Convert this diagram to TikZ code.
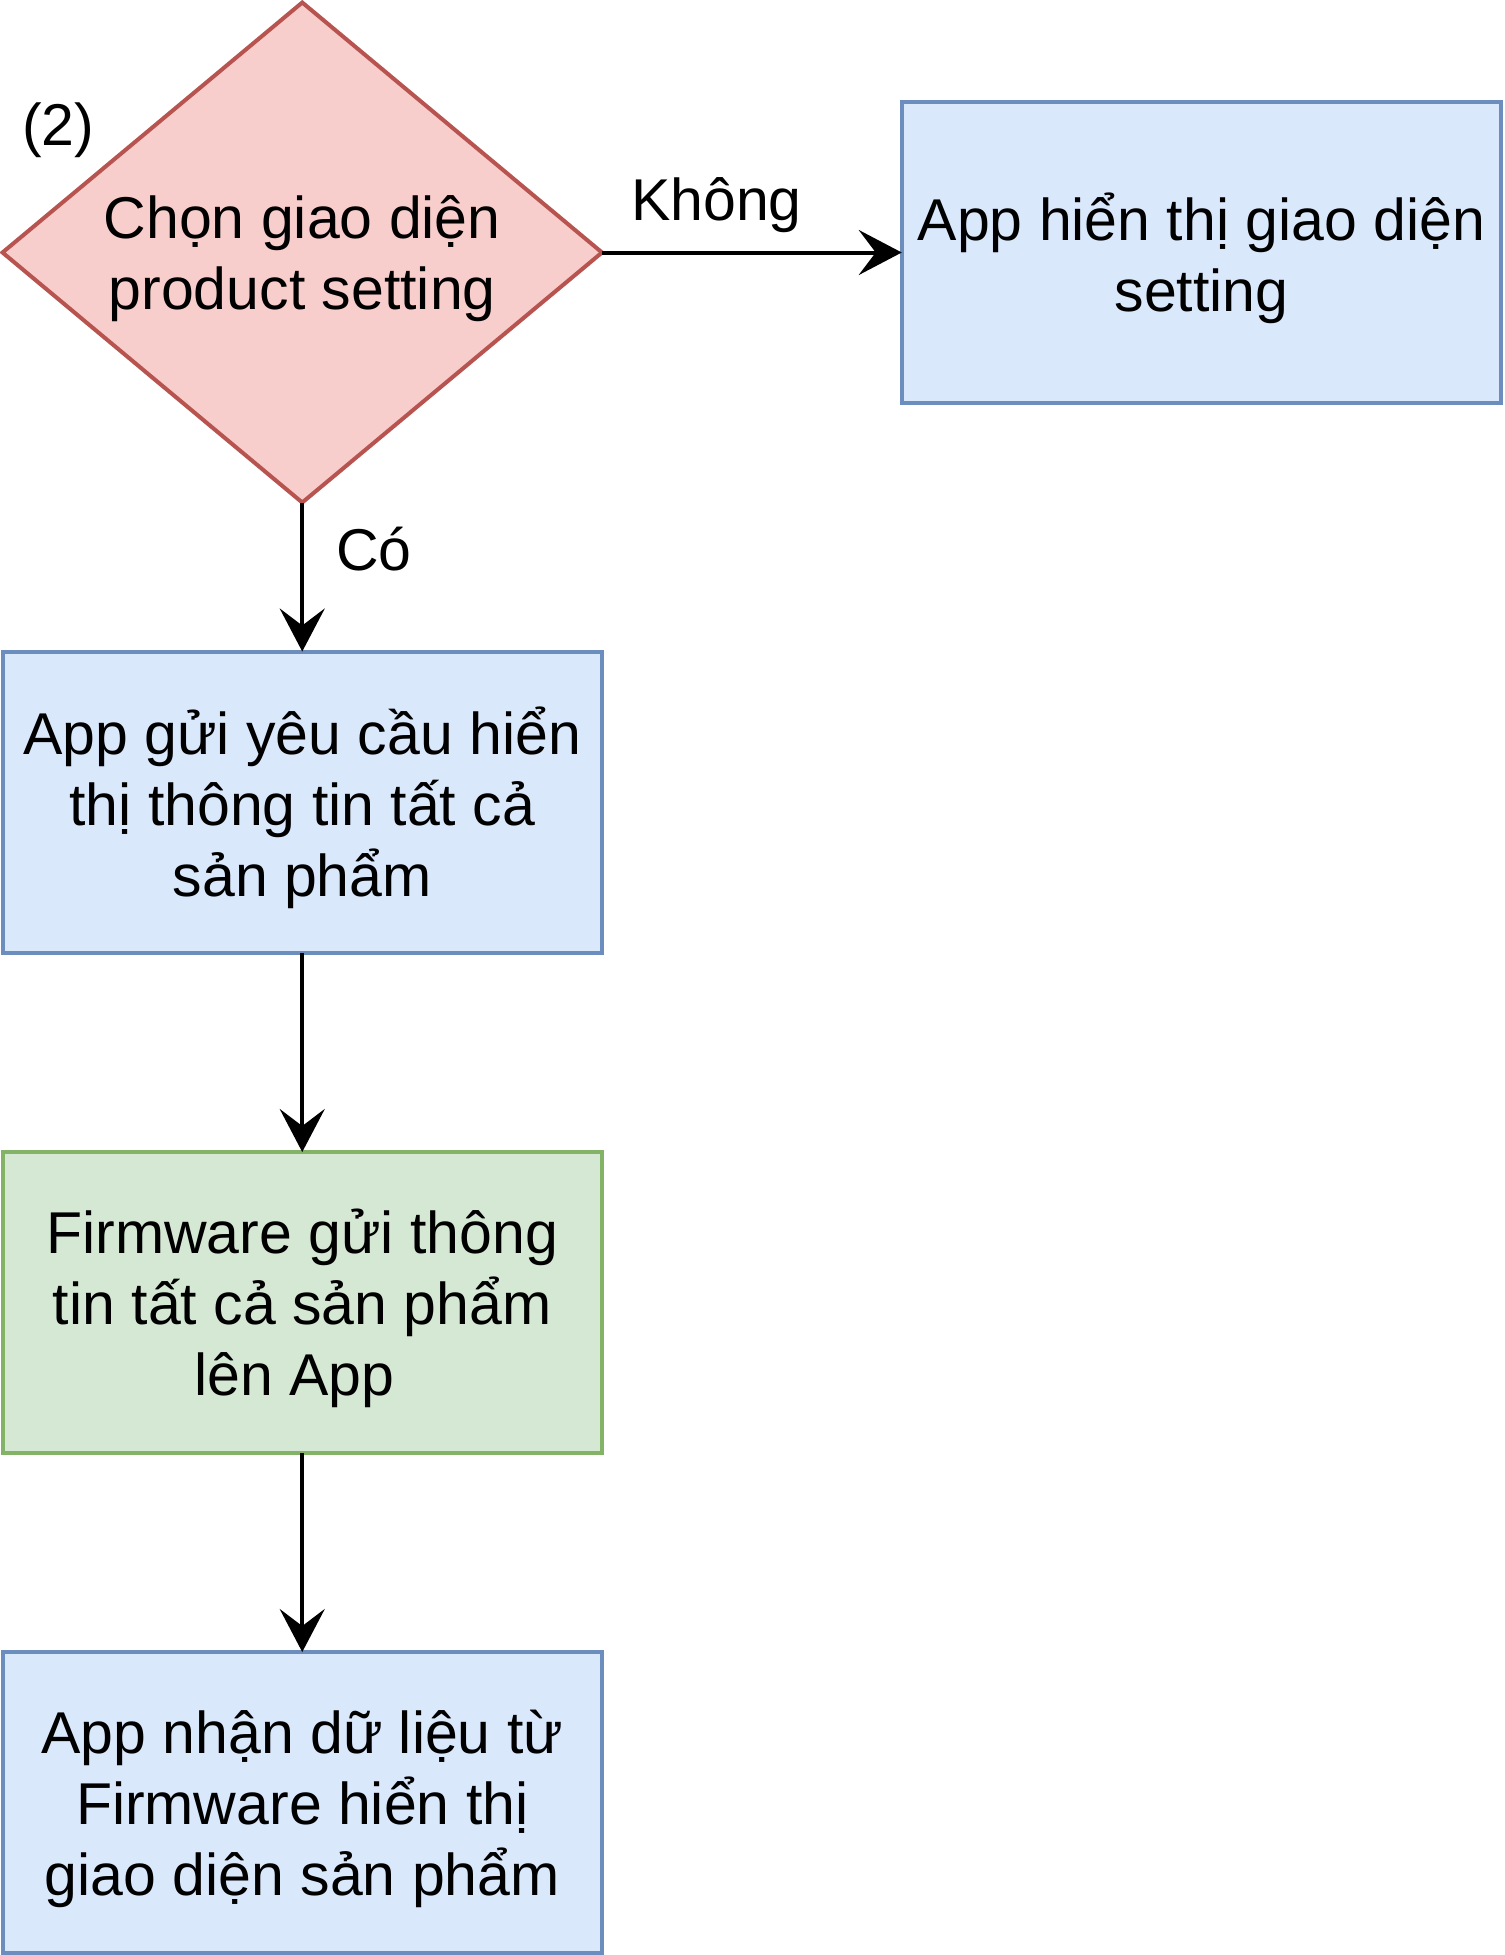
\documentclass[tikz,border=0pt]{standalone}
\usepackage{fontspec}
\setmainfont{Liberation Sans}
\usetikzlibrary{shapes.geometric,arrows.meta}
\definecolor{bluefill}{HTML}{DAE8FC}
\definecolor{bluedraw}{HTML}{6C8EBF}
\definecolor{greenfill}{HTML}{D5E8D4}
\definecolor{greendraw}{HTML}{82B366}
\definecolor{redfill}{HTML}{F8CECC}
\definecolor{reddraw}{HTML}{B85450}
\tikzset{
  txt/.style={font=\fontsize{59}{71}\selectfont, align=center, inner sep=0pt},
  bluebox/.style={rectangle, draw=bluedraw, fill=bluefill, line width=4pt, minimum width=599.5pt, minimum height=301pt, outer sep=0pt},
  greenbox/.style={rectangle, draw=greendraw, fill=greenfill, line width=4pt, minimum width=599.5pt, minimum height=301pt, outer sep=0pt},
  decision/.style={diamond, draw=reddraw, fill=redfill, line width=4pt, minimum width=599.5pt, minimum height=500pt, inner sep=0pt, outer sep=0pt},
  arr/.style={line width=4pt, -{Stealth[length=43pt, width=45pt, inset=17pt]}},
  lbl/.style={font=\fontsize{59}{71}\selectfont, inner sep=0pt, anchor=base west}
}
\begin{document}
\begin{tikzpicture}[x=1pt, y=-1pt]
\useasboundingbox[fill=white] (0,0) rectangle (1505,1955);
\node[decision] (d) at (302.25,252.5) {};
\node[txt] (dt) at ([yshift=-6pt]d.center) {Chọn giao diện\\product setting};
\node[bluebox] (r) at (1201.5,252.5) {};
\node[txt] (rt) at ([yshift=-6pt]r.center) {App hiển thị giao diện\\setting};
\node[bluebox] (b1) at (302.25,802) {};
\node[txt] (b1t) at ([yshift=-6pt]b1.center) {App gửi yêu cầu hiển\\thị thông tin tất cả\\sản phẩm};
\node[greenbox] (b2) at (302.25,1302.5) {};
\node[txt] (b2t) at ([yshift=-6pt]b2.center) {Firmware gửi thông\\tin tất cả sản phẩm\\lên App\hspace*{16pt}};
\node[bluebox] (b3) at (302.25,1802.5) {};
\node[txt] (b3t) at ([yshift=-6pt]b3.center) {App nhận dữ liệu từ\\Firmware hiển thị\\giao diện sản phẩm};
\node[lbl] (n2) at (22,145) {(2)};
\node[lbl] (nk) at (631,220) {Không};
\node[lbl] (nc) at (336,570) {Có};
\draw[arr] (d.east) -- (r.west);
\draw[arr] (d.south) -- (b1.north);
\draw[arr] (b1.south) -- (b2.north);
\draw[arr] (b2.south) -- (b3.north);
\end{tikzpicture}
\end{document}
